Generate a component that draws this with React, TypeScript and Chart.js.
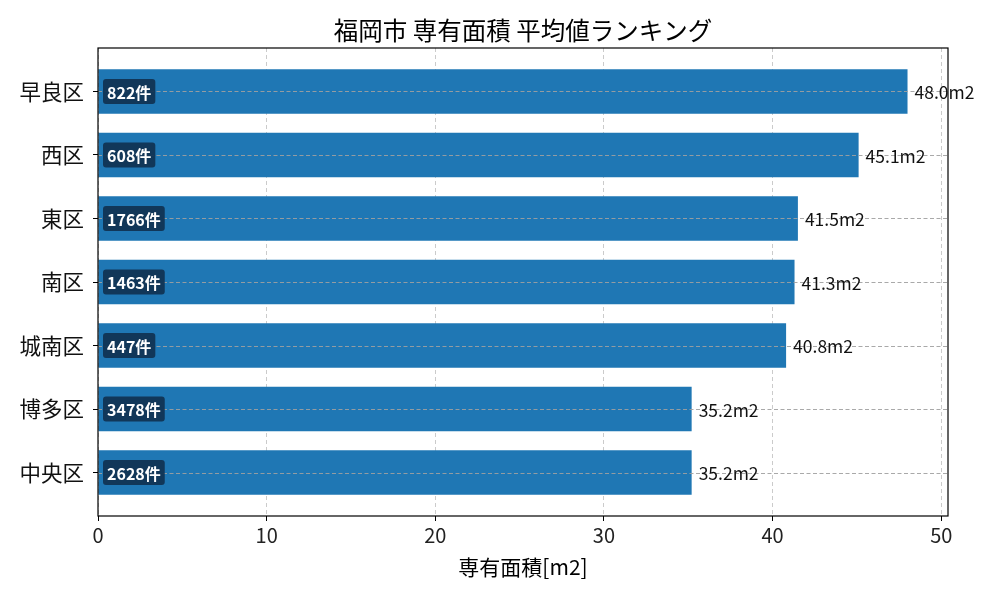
import { useEffect, useRef } from 'react';
import { Chart, registerables } from 'chart.js';

Chart.register(...registerables);

const wards = ['早良区', '西区', '東区', '南区', '城南区', '博多区', '中央区'];
const avgArea = [48.0, 45.1, 41.5, 41.3, 40.8, 35.2, 35.2];
const counts = [822, 608, 1766, 1463, 447, 3478, 2628];
const xTicks = [0, 10, 20, 30, 40, 50];

const FONT = '"Noto Sans CJK JP", "Noto Sans", sans-serif';

const overlay = {
  id: 'overlay',
  afterDatasetsDraw(chart: Chart) {
    const { ctx, chartArea: a } = chart;
    const xs = chart.scales.x;
    const ys = chart.scales.y;
    ctx.save();
    // horizontal dashed lines over bars
    ctx.strokeStyle = 'rgba(160,160,160,0.9)';
    ctx.lineWidth = 1;
    ctx.setLineDash([4, 2.5]);
    wards.forEach((_, i) => {
      const y = Math.round(ys.getPixelForValue(i)) + 0.5;
      ctx.beginPath();
      ctx.moveTo(a.left, y);
      ctx.lineTo(a.right, y);
      ctx.stroke();
    });
    ctx.setLineDash([]);

    // count badges
    ctx.font = `bold 16px ${FONT}`;
    ctx.textBaseline = 'middle';
    ctx.textAlign = 'left';
    counts.forEach((c, i) => {
      const y = ys.getPixelForValue(i);
      const label = `${c}件`;
      const w = ctx.measureText(label).width;
      const bx = a.left + 5;
      const bh = 25;
      ctx.fillStyle = 'rgba(17,52,84,0.95)';
      ctx.beginPath();
      ctx.roundRect(bx, y - bh / 2, w + 8, bh, 3);
      ctx.fill();
      ctx.fillStyle = '#ffffff';
      ctx.fillText(label, bx + 4, y + 1);
    });

    // value labels
    ctx.font = `17.5px ${FONT}`;
    ctx.fillStyle = '#111';
    avgArea.forEach((v, i) => {
      const y = ys.getPixelForValue(i);
      ctx.fillText(`${v.toFixed(1)}m2`, xs.getPixelForValue(v) + 7, y + 1);
    });

    // frame
    ctx.strokeStyle = '#000';
    ctx.lineWidth = 1.2;
    ctx.strokeRect(a.left, a.top, a.right - a.left, a.bottom - a.top);

    // title and axis label
    const cx = (a.left + a.right) / 2;
    ctx.textAlign = 'center';
    ctx.fillStyle = '#000';
    ctx.font = `24.5px ${FONT}`;
    ctx.fillText('福岡市 専有面積 平均値ランキング', cx, 31);
    ctx.font = `21px ${FONT}`;
    ctx.fillText('専有面積[m2]', cx, 567);
    ctx.restore();
  },
};

export default function App() {
  const canvasRef = useRef<HTMLCanvasElement>(null);

  useEffect(() => {
    if (!canvasRef.current) return;
    const chart = new Chart(canvasRef.current, {
      type: 'bar',
      data: {
        datasets: [
          {
            data: avgArea.map((v, i) => ({ x: v, y: i })),
            backgroundColor: '#1f77b4',
            barPercentage: 0.7,
            categoryPercentage: 1,
          },
        ],
      },
      options: {
        indexAxis: 'y',
        animation: false,
        responsive: true,
        maintainAspectRatio: false,
        layout: { padding: { top: 48, right: 52, left: 0, bottom: 0 } },
        plugins: { legend: { display: false }, title: { display: false }, tooltip: { enabled: false } },
        scales: {
          x: {
            type: 'linear',
            min: 0,
            max: 50.4,
            afterBuildTicks: (s: any) => { s.ticks = xTicks.map((v) => ({ value: v })); },
            afterFit: (s: any) => { s.height = 84; },
            border: { display: false, dash: [4, 3] },
            grid: { color: 'rgba(190,190,190,0.8)', lineWidth: 1, tickColor: '#000', tickLength: 5 },
            ticks: { color: '#222', font: { family: FONT, size: 20 }, padding: 2 },
          },
          y: {
            type: 'linear',
            reverse: true,
            offset: false,
            min: -0.685,
            max: 6.685,
            afterBuildTicks: (s: any) => { s.ticks = wards.map((_, i) => ({ value: i })); },
            afterFit: (s: any) => { s.width = 98; },
            border: { display: false },
            grid: { offset: false, drawOnChartArea: false, tickColor: '#000', tickLength: 5 },
            ticks: {
              color: '#111',
              font: { family: FONT, size: 21.5 },
              padding: 9,
              callback: (v: any) => wards[Number(v)] ?? '',
            },
          },
        },
      },
      plugins: [overlay],
    });
    return () => chart.destroy();
  }, []);

  return (
    <div style={{ position: 'fixed', left: 0, top: 0, width: 1000, height: 600, background: '#fff' }}>
      <canvas ref={canvasRef} />
    </div>
  );
}
